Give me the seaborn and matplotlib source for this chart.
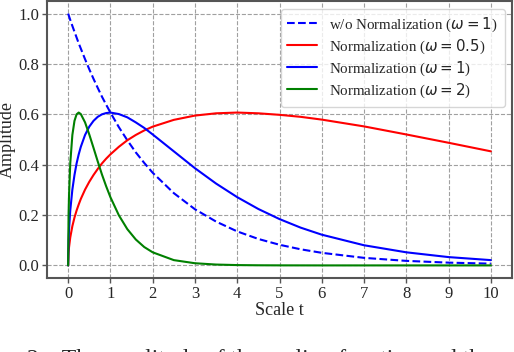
import matplotlib
matplotlib.use("Agg")
import matplotlib.pyplot as plt
import seaborn as sns

# Values
t = [0, 0.01, 0.02, 0.05, 0.1, 0.15, 0.2, 0.25, 0.3, 0.4, 0.5, 0.6, 0.7, 0.8,
     0.9, 1.0, 1.2, 1.4, 1.6, 1.8, 2.0, 2.5, 3.0, 3.5, 4.0, 4.5, 5.0, 5.5,
     6.0, 7.0, 8.0, 9.0, 10.0]

no_norm_w1 = [1.0, 0.995, 0.990, 0.975, 0.951, 0.928, 0.905, 0.882, 0.861,
              0.819, 0.779, 0.741, 0.705, 0.670, 0.638, 0.607, 0.549, 0.497,
              0.449, 0.407, 0.368, 0.287, 0.223, 0.174, 0.135, 0.105, 0.082,
              0.064, 0.050, 0.030, 0.018, 0.011, 0.007]

norm_w05 = [0.0, 0.050, 0.0705, 0.111, 0.156, 0.190, 0.218, 0.242, 0.264,
            0.301, 0.332, 0.359, 0.383, 0.405, 0.424, 0.441, 0.471, 0.497,
            0.518, 0.536, 0.551, 0.578, 0.595, 0.604, 0.607, 0.604, 0.598,
            0.590, 0.579, 0.552, 0.520, 0.487, 0.453]

norm_w1 = [0.0, 0.0995, 0.140, 0.218, 0.301, 0.359, 0.405, 0.441, 0.471,
           0.518, 0.551, 0.574, 0.590, 0.600, 0.605, 0.607, 0.601, 0.588,
           0.568, 0.546, 0.520, 0.453, 0.386, 0.325, 0.271, 0.224, 0.184,
           0.150, 0.122, 0.080, 0.052, 0.033, 0.021]

norm_w2 = [0.0, 0.196, 0.272, 0.405, 0.518, 0.574, 0.600, 0.607, 0.601,
           0.568, 0.520, 0.467, 0.413, 0.361, 0.314, 0.271, 0.199, 0.144,
           0.103, 0.073, 0.052, 0.021, 0.0086, 0.0034, 0.0013, 0.0005, 0.0002,
           0.0001, 0.0, 0.0, 0.0, 0.0, 0.0]

labels = [r"w/o Normalization ($\omega = 1$)",
          r"Normalization ($\omega = 0.5$)",
          r"Normalization ($\omega = 1$)",
          r"Normalization ($\omega = 2$)"]

sns.set_style("ticks")
plt.rcParams["font.family"] = ["Liberation Serif", "DejaVu Serif"]
plt.rcParams["mathtext.fontset"] = "dejavusans"

fig = plt.figure(figsize=(5.14, 3.52), dpi=100)
ax = fig.add_axes([47 / 514, 1 - 278 / 352, (512 - 47) / 514, 277 / 352])

sns.lineplot(x=t, y=no_norm_w1, color="b", linestyle="--", lw=1.5, label=labels[0], ax=ax)
sns.lineplot(x=t, y=norm_w05, color="r", lw=1.5, label=labels[1], ax=ax)
sns.lineplot(x=t, y=norm_w1, color="b", lw=1.5, label=labels[2], ax=ax)
sns.lineplot(x=t, y=norm_w2, color="g", lw=1.5, label=labels[3], ax=ax)

ax.set_xlim(-0.5, 10.5)
ax.set_ylim(-0.05, 1.05)
ax.set_xticks(range(0, 11))
ax.set_yticks([0.0, 0.2, 0.4, 0.6, 0.8, 1.0])
ax.set_yticklabels(["0.0", "0.2", "0.4", "0.6", "0.8", "1.0"])
ax.grid(True, linestyle="--", color="#a0a0a0", lw=0.8)
for s in ax.spines.values():
    s.set_visible(True)
    s.set_color("#555555")
    s.set_linewidth(1.5)
ax.tick_params(labelsize=12, length=3.5, width=1, color="#555555", pad=2)
ax.set_xlabel("Scale t", fontsize=13, labelpad=0)
ax.set_ylabel("Amplitude", fontsize=13, labelpad=2)

leg = ax.legend(loc="upper right", fontsize=10.8, frameon=True, handlelength=2.0,
                borderaxespad=0.5, labelspacing=0.25, borderpad=0.45)
leg.get_frame().set_edgecolor("#cccccc")

# figure caption below the chart, cut by the bottom edge as in the reference
fig.text(0.053, -0.036, "2.   The amplitude of the scaling function and the",
         fontsize=17, va="baseline", ha="left")

fig.savefig("out.png", dpi=100)
